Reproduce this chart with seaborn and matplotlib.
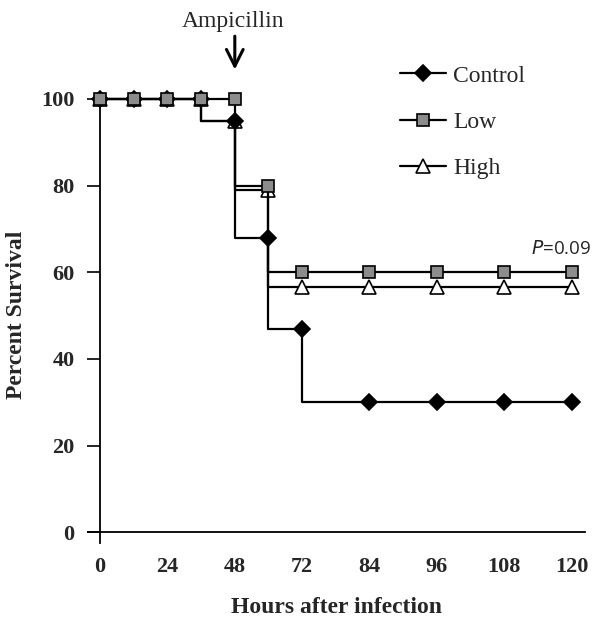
import numpy as np
import pandas as pd
import matplotlib
matplotlib.use("Agg")
import matplotlib.pyplot as plt
import seaborn as sns

# ---- data ----
hours = [0, 12, 24, 36, 48, 60, 72, 84, 96, 108, 120]
control = [100, 100, 100, 100, 95, 68, 47, 30, 30, 30, 30]
low = [100, 100, 100, 100, 100, 80, 60, 60, 60, 60, 60]
high = [100, 100, 100, 100, 95, 79, 56.5, 56.5, 56.5, 56.5, 56.5]
tick_hours = [0, 24, 48, 72, 84, 96, 108, 120]
tick_labels = [str(h) for h in tick_hours]
yticks = [0, 20, 40, 60, 80, 100]

# the original axis spaces its labelled hours evenly
tick_pos = np.arange(len(tick_hours))
def to_pos(h):
    return np.interp(h, tick_hours, tick_pos)

df = pd.DataFrame({
    "pos": np.concatenate([to_pos(hours)] * 3),
    "survival": control + low + high,
    "group": ["Control"] * len(hours) + ["Low"] * len(hours) + ["High"] * len(hours),
})

sns.set_theme(style="white")
plt.rcParams["font.family"] = ["Liberation Serif", "DejaVu Sans"]

fig = plt.figure(figsize=(6.0, 6.3), dpi=100)
ax = fig.add_axes([88 / 600, 1 - 543 / 630, 497 / 600, 444 / 630])

styles = {
    "High": dict(marker="^", markerfacecolor="white", markersize=9.5),
    "Control": dict(marker="D", markerfacecolor="black", markersize=8.0),
    "Low": dict(marker="s", markerfacecolor="#8c8c8c", markersize=8.6),
}
handles = {}
for g in ["High", "Control", "Low"]:
    sub = df[df["group"] == g]
    sns.lineplot(data=sub, x="pos", y="survival", ax=ax, color="black",
                 drawstyle="steps-pre", linewidth=1.6, markeredgecolor="black",
                 markeredgewidth=1.2, clip_on=False, zorder=3, label=g,
                 **styles[g])
    handles[g] = ax.lines[-1]

ax.set_xlim(-0.18, 7.2)
ax.set_ylim(-2.5, 100)
ax.spines["bottom"].set_position(("data", 0))
ax.spines["top"].set_visible(False)
ax.spines["right"].set_visible(False)
ax.spines["left"].set_position(("data", 0))
for s in ["left", "bottom"]:
    ax.spines[s].set_color("black")
    ax.spines[s].set_linewidth(1.3)

ax.set_xticks(tick_pos)
ax.set_xticklabels(tick_labels, fontsize=16, fontweight="bold")
ax.set_yticks(yticks)
ax.set_yticklabels([str(v) for v in yticks], fontsize=16, fontweight="bold")
ax.tick_params(axis="x", length=0, pad=18)
ax.tick_params(axis="y", direction="out", length=9.4, width=1.2, color="black",
               pad=9, left=True)

ax.set_xlabel("Hours after infection", fontsize=17, fontweight="bold")
ax.set_ylabel("Percent Survival", fontsize=17, fontweight="bold")
ax.xaxis.set_label_coords(0.501, -0.122)
ax.yaxis.set_label_coords(-0.123, 0.514)

leg = ax.legend([handles["Control"], handles["Low"], handles["High"]],
                ["Control", "Low", "High"], loc="upper left",
                bbox_to_anchor=(400 / 600, 1 - 65 / 630),
                bbox_transform=fig.transFigure, frameon=False, fontsize=17,
                handlelength=1.95, handletextpad=0.3, labelspacing=1.05,
                borderpad=0, borderaxespad=0)

# annotations
ax.text(to_pos(48) - 0.03, 117.8, "Ampicillin", ha="center", va="center",
        fontsize=17, clip_on=False)
ax.annotate("", xy=(to_pos(48), 106.8), xytext=(to_pos(48), 114.5),
            arrowprops=dict(arrowstyle="->,head_length=0.6,head_width=0.3",
                            lw=2.2, color="black", mutation_scale=20,
                            shrinkA=0, shrinkB=0),
            annotation_clip=False)
ax.text(6.85, 65.4, r"$\it{P}$=0.09", ha="center", va="center", fontsize=13.5,
        family=["Open Sans", "DejaVu Sans"], clip_on=False)

fig.savefig("out.png", dpi=100)
